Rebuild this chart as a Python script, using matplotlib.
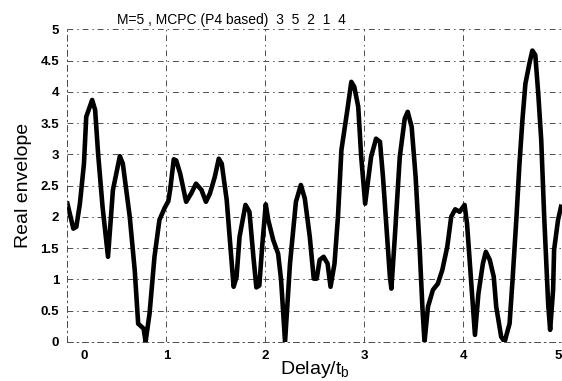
import numpy as np
import matplotlib
matplotlib.use('Agg')
import matplotlib.pyplot as plt
import matplotlib.transforms as mtransforms

# envelope values
delay = [0.0, 0.06, 0.09, 0.126, 0.167, 0.19, 0.25, 0.28, 0.31, 0.355,
         0.41, 0.46, 0.53, 0.56, 0.63, 0.68, 0.715, 0.77, 0.79, 0.83,
         0.88, 0.93, 0.985, 1.02, 1.04, 1.075, 1.10, 1.14, 1.2, 1.25,
         1.30, 1.355, 1.40, 1.44, 1.49, 1.53, 1.56, 1.61, 1.64, 1.68,
         1.71, 1.74, 1.80, 1.84, 1.88, 1.91, 1.94, 1.97, 2.005, 2.03,
         2.08, 2.13, 2.16, 2.20, 2.25, 2.31, 2.36, 2.40, 2.45, 2.49,
         2.52, 2.55, 2.59, 2.63, 2.66, 2.70, 2.735, 2.77, 2.83, 2.87,
         2.90, 2.94, 2.97, 3.01, 3.07, 3.12, 3.16, 3.19, 3.22, 3.26,
         3.275, 3.31, 3.36, 3.41, 3.44, 3.48, 3.52, 3.56, 3.59, 3.61,
         3.645, 3.695, 3.745, 3.79, 3.84, 3.88, 3.92, 3.965, 4.015, 4.04,
         4.09, 4.12, 4.155, 4.2, 4.23, 4.27, 4.31, 4.335, 4.385, 4.42,
         4.47, 4.50, 4.54, 4.57, 4.60, 4.63, 4.67, 4.70, 4.73, 4.76,
         4.79, 4.82, 4.86, 4.88, 4.91, 4.92, 4.96, 4.99]
envelope = [2.21, 1.81, 1.84, 2.21, 2.85, 3.6, 3.87, 3.71, 3.01, 2.16,
            1.36, 2.43, 2.97, 2.85, 2.0, 1.15, 0.29, 0.21, 0.0, 0.45,
            1.36, 1.95, 2.15, 2.25, 2.45, 2.92, 2.9, 2.69, 2.24, 2.37,
            2.53, 2.43, 2.24, 2.37, 2.64, 2.93, 2.85, 2.27, 1.68, 0.88,
            1.04, 1.68, 2.19, 2.08, 1.36, 0.87, 0.9, 1.55, 2.2, 1.95,
            1.63, 1.41, 0.99, 0.0, 1.25, 2.24, 2.51, 2.29, 1.68, 1.01,
            1.01, 1.31, 1.36, 1.25, 0.88, 1.25, 2.0, 3.07, 3.71, 4.16,
            4.08, 3.76, 2.96, 2.21, 2.96, 3.25, 3.2, 2.64, 1.95, 1.04,
            0.85, 1.68, 2.96, 3.57, 3.68, 3.44, 2.64, 1.52, 0.51, 0.0,
            0.56, 0.83, 0.93, 1.15, 1.52, 2.0, 2.12, 2.08, 2.19, 1.89,
            0.77, 0.11, 0.77, 1.25, 1.44, 1.31, 1.04, 0.56, 0.08, 0.0,
            0.29, 0.99, 2.0, 2.85, 3.55, 4.13, 4.45, 4.66, 4.59, 3.97,
            3.23, 2.0, 0.61, 0.19, 0.83, 1.47, 1.95, 2.16]

x_ticks = [0, 1, 2, 3, 4, 5]
y_ticks = [0, 0.5, 1, 1.5, 2, 2.5, 3, 3.5, 4, 4.5, 5]
y_tick_labels = ['0', '0.5', '1', '1.5', '2', '2.5', '3', '3.5', '4', '4.5', '5']

plt.rcParams['font.family'] = ['Liberation Sans', 'DejaVu Sans']

fig = plt.figure(figsize=(5.62, 3.81), dpi=100)
ax = fig.add_axes([0.12, 0.103, 0.88, 0.82])

ax.plot(delay, envelope, color='black', linewidth=3.3, solid_joinstyle='round')

ax.set_xlim(0, 5)
ax.set_ylim(0, 5)
ax.set_xticks(x_ticks)
ax.set_yticks(y_ticks)
ax.set_yticklabels(y_tick_labels)
ax.tick_params(length=0, labelsize=9.5, pad=6)
for lbl in ax.get_xticklabels() + ax.get_yticklabels():
    lbl.set_fontweight('bold')

# the scan puts the "0" label a bit right of the axis, and "5" sits on the edge
xlabels = ax.get_xticklabels()
shift = mtransforms.ScaledTranslation(0.17, 0, fig.dpi_scale_trans)
xlabels[0].set_transform(xlabels[0].get_transform() + shift)
xlabels[-1].set_horizontalalignment('right')

dashdot = (0, (6, 4, 1.5, 4))
ax.grid(True, color='0.3', linewidth=0.7, linestyle=dashdot)
for side in ['top', 'right']:
    ax.spines[side].set_visible(False)
for side in ['left', 'bottom']:
    ax.spines[side].set_linestyle(dashdot)
    ax.spines[side].set_linewidth(0.7)
    ax.spines[side].set_color('0.3')

ax.set_ylabel('Real envelope', fontsize=14, labelpad=6)
ax.set_xlabel('Delay/t$_\\mathregular{b}$', fontsize=14, labelpad=-2)

fig.text(0.208, 0.948, 'M=5 , MCPC (P4 based)  3  5  2  1  4', fontsize=10, va='center', ha='left')

fig.savefig('out.png', dpi=100)
